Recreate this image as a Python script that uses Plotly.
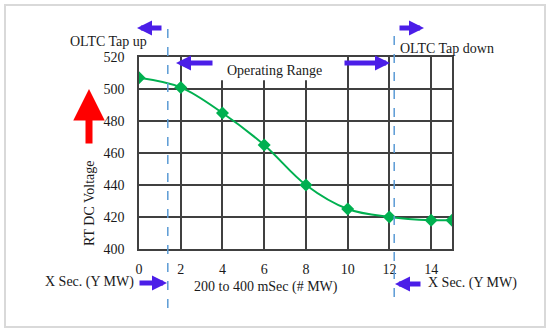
import plotly.graph_objects as go

# ---- data ----
time_s = [0, 2, 4, 6, 8, 10, 12, 14, 15]
rt_dc_voltage = [507, 501, 485, 465, 440, 425, 420, 418, 418]
x_ticks = [0, 2, 4, 6, 8, 10, 12, 14]
y_ticks = [400, 420, 440, 460, 480, 500, 520]
range_bounds = [1.38, 12.23]  # dashed boundary lines (x)

W, H = 550, 334
L, R, T, B = 139, 98, 57, 85
pw, ph = W - L - R, H - T - B

def px(x):
    return (x - L) / pw

def py(y):
    return (H - B - y) / ph

FONT = "Liberation Serif"
BLUE = "#4B1EE8"
GRID = "#404040"

fig = go.Figure()
fig.add_trace(go.Scatter(
    x=time_s, y=rt_dc_voltage, mode="lines+markers",
    line=dict(color="#00B050", width=2, shape="spline", smoothing=1),
    marker=dict(symbol="diamond", size=10, color="#00B050"),
    showlegend=False, hoverinfo="skip"))

shapes = []
# outer frame
shapes.append(dict(type="rect", xref="paper", yref="paper",
                   x0=px(5), x1=px(545), y0=py(327), y1=py(5),
                   line=dict(color="#d9d9d9", width=2), layer="below"))
# white box behind "Operating Range"
shapes.append(dict(type="rect", xref="x", yref="y", x0=3.55, x1=9.78,
                   y0=505.5, y1=521.5, fillcolor="white",
                   line=dict(width=0), layer="above"))
# dashed boundaries
shapes.append(dict(type="line", xref="x", yref="paper", x0=range_bounds[0], x1=range_bounds[0],
                   y0=py(308), y1=py(28), line=dict(color="#5B9BD5", width=1.5, dash="dash")))
shapes.append(dict(type="line", xref="x", yref="paper", x0=range_bounds[1], x1=range_bounds[1],
                   y0=py(297), y1=py(28), line=dict(color="#5B9BD5", width=1.5, dash="dash")))

ann = []
def arrow(tx, ty, dx, dy, color=BLUE, width=5, size=0.6):
    ann.append(dict(xref="paper", yref="paper", x=px(tx), y=py(ty), ax=dx, ay=dy,
                    showarrow=True, arrowhead=2, arrowsize=size, arrowwidth=width,
                    arrowcolor=color, text="", standoff=0, startstandoff=0))

arrow(137, 28, 26, 0)
arrow(176, 63, 38, 0)
arrow(390, 63, -47, 0)
arrow(424, 28, -26, 0)
arrow(167, 283, -29, 0)
arrow(395, 284, 27, 0)
arrow(89, 89, 0, 56, color="#FF0000", width=7, size=0.9)

def text(t, cx, cy, **kw):
    d = dict(xref="paper", yref="paper", x=px(cx), y=py(cy), text=t, showarrow=False,
             xanchor="center", yanchor="middle", font=dict(family=FONT, size=14, color="#1a1a1a"))
    d.update(kw)
    ann.append(d)

text("OLTC Tap up", 108, 41)
text("OLTC Tap down", 447, 48)
text("Operating Range", 274, 70)
text("X Sec. (Y MW)", 89, 282)
text("200 to 400 mSec (# MW)", 266, 287)
text("X Sec. (Y MW)", 472, 283)
text("RT DC Voltage", 89, 203, textangle=-90)

fig.update_layout(
    width=W, height=H, margin=dict(l=L, r=R, t=T, b=B),
    paper_bgcolor="white", plot_bgcolor="white",
    font=dict(family=FONT, size=14, color="#1a1a1a"),
    shapes=shapes, annotations=ann,
    xaxis=dict(range=[0, 15], tickvals=x_ticks, showgrid=True, gridcolor=GRID, gridwidth=1.5,
               showline=True, mirror=True, linecolor=GRID, linewidth=1.5, zeroline=False,
               ticks="", ticklabelstandoff=6, tickfont=dict(family=FONT, size=14)),
    yaxis=dict(range=[400, 520], tickvals=y_ticks, showgrid=True, gridcolor=GRID, gridwidth=1.5,
               showline=True, mirror=True, linecolor=GRID, linewidth=1.5, zeroline=False,
               ticks="", ticklabelstandoff=10, tickfont=dict(family=FONT, size=14)),
)

fig.write_html("out.html", config={"displayModeBar": False},
               post_script="document.body.style.margin='0';document.body.style.overflow='hidden';")
